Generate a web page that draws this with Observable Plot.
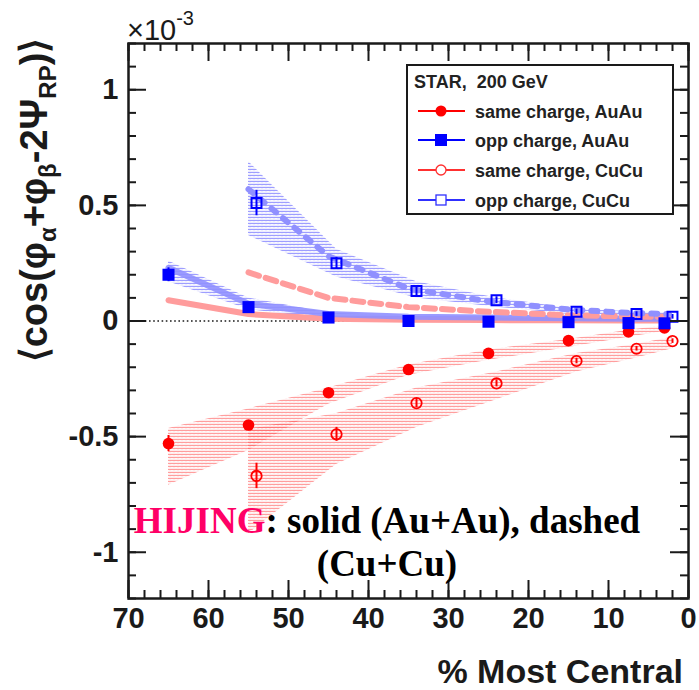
<!DOCTYPE html>
<html><head><meta charset="utf-8">
<script src="https://cdn.jsdelivr.net/npm/d3@7"></script>
<script src="https://cdn.jsdelivr.net/npm/@observablehq/plot@0.6"></script>
<style>
body{margin:0;background:#fff}
#chart{position:relative;width:699px;height:690px}
</style>
</head><body>
<svg width="0" height="0" style="position:absolute">
<defs>
<pattern id="hatchRed" width="4" height="3" patternUnits="userSpaceOnUse">
<path d="M0,2.2 L1,0.8 L2,2.2 L3,0.8 L4,2.2" stroke="#ff5a5a" stroke-width="0.7" stroke-opacity="0.85" fill="none"/>
</pattern>
<pattern id="hatchBlue" width="4" height="3" patternUnits="userSpaceOnUse">
<path d="M0,2.2 L1,0.8 L2,2.2 L3,0.8 L4,2.2" stroke="#5a5aff" stroke-width="0.7" stroke-opacity="0.85" fill="none"/>
</pattern>
</defs></svg>
<div id="chart"></div>
<script>
// ---- data (values in units of 1e-3) ----
const centralityAu = [65, 55, 45, 35, 25, 15, 7.5, 3];
const centralityCu = [54, 44, 34, 24, 14, 6.5, 2];

const sameAuAu = [-0.53, -0.45, -0.31, -0.21, -0.14, -0.085, -0.047, -0.03];
const oppAuAu  = [0.20, 0.06, 0.015, 0.0, -0.003, -0.005, -0.009, -0.01];
const sameCuCu = [-0.67, -0.49, -0.355, -0.27, -0.173, -0.12, -0.087];
const oppCuCu  = [0.51, 0.25, 0.13, 0.09, 0.04, 0.03, 0.018];

const errSameAuAu = [0.035, 0.015, 0.012, 0.01, 0.008, 0.008, 0.008, 0.008];
const errOppAuAu  = [0.03, 0.015, 0.01, 0.008, 0.008, 0.008, 0.008, 0.008];
const errSameCuCu = [0.055, 0.03, 0.02, 0.015, 0.012, 0.01, 0.01];
const errOppCuCu  = [0.055, 0.025, 0.02, 0.015, 0.012, 0.01, 0.01];

// systematic bands
const bandAuX = [65, 55, 45, 35, 25, 15, 7.5, 3];
const bandSameAuLo = [-0.71, -0.56, -0.36, -0.235, -0.17, -0.115, -0.07, -0.045];
const bandSameAuHi = [-0.465, -0.38, -0.29, -0.19, -0.125, -0.08, -0.04, -0.02];
const bandOppAuLo  = [0.17, 0.05, 0.005, 0.0, 0.0, 0.0, -0.005, -0.01];
const bandOppAuHi  = [0.26, 0.10, 0.035, 0.02, 0.018, 0.015, 0.012, 0.01];
const bandCuX = [55, 44, 34, 24, 14, 6.5, 2];
const bandSameCuLo = [-0.92, -0.62, -0.46, -0.34, -0.22, -0.16, -0.12];
const bandSameCuHi = [-0.47, -0.40, -0.29, -0.22, -0.14, -0.10, -0.07];
const bandOppCuLo  = [0.37, 0.19, 0.10, 0.06, 0.025, 0.015, 0.01];
const bandOppCuHi  = [0.69, 0.31, 0.17, 0.10, 0.05, 0.04, 0.035];

// HIJING curves
const hijingAuX = [65, 55, 45, 35, 25, 15, 7.5, 2.5];
const hijingSameAu = [0.09, 0.03, 0.01, 0.005, 0.004, 0.003, 0.002, 0.002];
const hijingOppAu  = [0.23, 0.075, 0.03, 0.018, 0.015, 0.012, 0.01, 0.01];
const hijingCuX = [55, 45, 35, 25, 15, 7.5, 2.5];
const hijingSameCu = [0.21, 0.10, 0.06, 0.04, 0.025, 0.02, 0.018];
const hijingOppCu  = [0.57, 0.28, 0.14, 0.085, 0.05, 0.035, 0.03];

// ticks
const xTicks = [70, 60, 50, 40, 30, 20, 10, 0];
const xTickLabels = ["70", "60", "50", "40", "30", "20", "10", "0"];
const yTicks = [-1, -0.5, 0, 0.5, 1];
const yTickLabels = ["-1", "-0.5", "0", "0.5", "1"];
const xMinor = d3.range(0, 71, 2);
const yMinor = d3.range(-12, 13, 1).map(d => d / 10);

const legendEntries = ["same charge, AuAu", "opp charge, AuAu", "same charge, CuCu", "opp charge, CuCu"];

// ---- build ----
const pts = (xs, ys, es) => xs.map((x, i) => ({x, y: ys[i], e: es ? es[i] : 0}));
const band = (xs, lo, hi) => xs.map((x, i) => ({x, lo: lo[i], hi: hi[i]}));

const W = 699, H = 690, mL = 128, mR = 11, mT = 43, mB = 92;
const fw = W - mL - mR, fh = H - mT - mB;
const ink = "#1a1a1a";
const pink = "#ff9c9c", lblue = "#9090ff";

const chart = Plot.plot({
  width: W, height: H,
  marginLeft: mL, marginRight: mR, marginTop: mT, marginBottom: mB,
  x: {domain: [70, 0], axis: null},
  y: {domain: [-1.2, 1.2], axis: null},
  style: {fontFamily: "'Liberation Sans', Arial, sans-serif", background: "white", color: ink, overflow: "visible"},
  marks: [
    Plot.areaY(band(bandAuX, bandSameAuLo, bandSameAuHi), {x: "x", y1: "lo", y2: "hi", fill: "url(#hatchRed)"}),
    Plot.areaY(band(bandCuX, bandSameCuLo, bandSameCuHi), {x: "x", y1: "lo", y2: "hi", fill: "url(#hatchRed)"}),
    Plot.areaY(band(bandAuX, bandOppAuLo, bandOppAuHi), {x: "x", y1: "lo", y2: "hi", fill: "url(#hatchBlue)"}),
    Plot.areaY(band(bandCuX, bandOppCuLo, bandOppCuHi), {x: "x", y1: "lo", y2: "hi", fill: "url(#hatchBlue)"}),
    Plot.ruleY([0], {stroke: ink, strokeWidth: 1.6, strokeDasharray: "1.6,2.6"}),
    Plot.line(pts(hijingAuX, hijingSameAu), {x: "x", y: "y", stroke: pink, strokeWidth: 6}),
    Plot.line(pts(hijingAuX, hijingOppAu), {x: "x", y: "y", stroke: lblue, strokeWidth: 6, strokeOpacity: 0.9}),
    Plot.line(pts(hijingCuX, hijingSameCu), {x: "x", y: "y", stroke: pink, strokeWidth: 6, strokeDasharray: "11,7"}),
    Plot.line(pts(hijingCuX, hijingOppCu), {x: "x", y: "y", stroke: lblue, strokeWidth: 6, strokeDasharray: "6,9"}),
    Plot.ruleX(pts(centralityAu, sameAuAu, errSameAuAu), {x: "x", y1: d => d.y - d.e, y2: d => d.y + d.e, stroke: "#ff0000", strokeWidth: 2}),
    Plot.ruleX(pts(centralityAu, oppAuAu, errOppAuAu), {x: "x", y1: d => d.y - d.e, y2: d => d.y + d.e, stroke: "#0000ff", strokeWidth: 2}),
    Plot.ruleX(pts(centralityCu, sameCuCu, errSameCuCu), {x: "x", y1: d => d.y - d.e, y2: d => d.y + d.e, stroke: "#ff0000", strokeWidth: 2}),
    Plot.ruleX(pts(centralityCu, oppCuCu, errOppCuCu), {x: "x", y1: d => d.y - d.e, y2: d => d.y + d.e, stroke: "#0000ff", strokeWidth: 2}),
    Plot.dot(pts(centralityAu, sameAuAu), {x: "x", y: "y", symbol: "circle", r: 5.8, fill: "#ff0000"}),
    Plot.dot(pts(centralityAu, oppAuAu), {x: "x", y: "y", symbol: "square", r: 6.8, fill: "#0000ff"}),
    Plot.dot(pts(centralityCu, sameCuCu), {x: "x", y: "y", symbol: "circle", r: 5.2, fill: "none", stroke: "#ff0000", strokeWidth: 1.8}),
    Plot.dot(pts(centralityCu, oppCuCu), {x: "x", y: "y", symbol: "square", r: 5.6, fill: "none", stroke: "#0000ff", strokeWidth: 2}),
    // ticks (inward, all four sides)
    Plot.tickX(xMinor, {x: d => d, insetTop: fh - 8, stroke: ink, strokeWidth: 2}),
    Plot.tickX(xMinor, {x: d => d, insetBottom: fh - 8, stroke: ink, strokeWidth: 2}),
    Plot.tickX(xTicks, {x: d => d, insetTop: fh - 18, stroke: ink, strokeWidth: 2}),
    Plot.tickX(xTicks, {x: d => d, insetBottom: fh - 18, stroke: ink, strokeWidth: 2}),
    Plot.tickY(yMinor, {y: d => d, insetRight: fw - 8, stroke: ink, strokeWidth: 2}),
    Plot.tickY(yMinor, {y: d => d, insetLeft: fw - 8, stroke: ink, strokeWidth: 2}),
    Plot.tickY(yTicks, {y: d => d, insetRight: fw - 18, stroke: ink, strokeWidth: 2}),
    Plot.tickY(yTicks, {y: d => d, insetLeft: fw - 18, stroke: ink, strokeWidth: 2}),
    Plot.frame({stroke: ink, strokeWidth: 2.5}),
    Plot.axisX(xTicks, {anchor: "bottom", tickSize: 0, tickPadding: 9, fontSize: 29, fontWeight: "bold", tickFormat: d => xTickLabels[xTicks.indexOf(d)], label: null}),
    Plot.axisY(yTicks, {anchor: "left", tickSize: 0, tickPadding: 10, fontSize: 29, fontWeight: "bold", tickFormat: d => yTickLabels[yTicks.indexOf(d)], label: null})
  ]
});
document.getElementById("chart").appendChild(chart);

const svg = d3.select(chart);
const sans = "'Liberation Sans', Arial, sans-serif";

// multiplier
const mult = svg.append("text").attr("x", 127).attr("y", 40).attr("text-anchor", "start").attr("font-family", sans).attr("font-size", 29).attr("fill", ink);
mult.append("tspan").text("×10");
mult.append("tspan").attr("font-size", 20).attr("dy", -15).text("-3");

// y title
const yt = svg.append("text").attr("transform", "translate(47,200) rotate(-90)").attr("text-anchor", "middle")
  .attr("font-family", sans).attr("font-size", 38).attr("font-weight", "bold").attr("fill", ink);
const parts = [["⟨cos(φ", 0], ["α", 1], ["+φ", 0], ["β", 1], ["-2Ψ", 0], ["RP", 1], [")⟩", 0]];
let cur = 0;
for (const [t, sub] of parts) {
  const target = sub ? 9 : 0;
  const ts = yt.append("tspan").attr("dy", target - cur).text(t);
  if (sub) ts.attr("font-size", 24);
  cur = target;
}

// x title
svg.append("text").attr("x", 683).attr("y", 683).attr("text-anchor", "end").attr("font-family", sans)
  .attr("font-size", 34).attr("font-weight", "bold").attr("fill", ink).text("% Most Central");

// HIJING note
const serif = "'Liberation Serif', 'Times New Roman', serif";
const h1 = svg.append("text").attr("x", 387).attr("y", 533).attr("text-anchor", "middle").attr("font-family", serif)
  .attr("font-size", 37).attr("font-weight", "bold").attr("fill", "#000");
h1.append("tspan").attr("fill", "#ff0066").text("HIJING");
h1.append("tspan").text(": solid (Au+Au), dashed");
svg.append("text").attr("x", 387).attr("y", 576).attr("text-anchor", "middle").attr("font-family", serif)
  .attr("font-size", 37).attr("font-weight", "bold").attr("fill", "#000").text("(Cu+Cu)");

// legend
const lg = svg.append("g").attr("font-family", sans).attr("font-weight", "bold").attr("font-size", 18).attr("fill", "#222").attr("text-anchor", "start");
lg.append("rect").attr("x", 407).attr("y", 65).attr("width", 266).attr("height", 149).attr("fill", "white").attr("stroke", ink).attr("stroke-width", 2);
lg.append("text").attr("x", 414).attr("y", 88).style("white-space", "pre").text("STAR,  200 GeV");
const rowsY = [111, 140, 170, 200];
const lcol = ["#ff0000", "#0000ff", "#ff3030", "#3030ff"];
rowsY.forEach((yy, i) => {
  lg.append("line").attr("x1", 418).attr("x2", 465).attr("y1", yy).attr("y2", yy).attr("stroke", lcol[i]).attr("stroke-width", 2);
  if (i === 0) lg.append("circle").attr("cx", 441).attr("cy", yy).attr("r", 5.5).attr("fill", "#ff0000");
  if (i === 1) lg.append("rect").attr("x", 435).attr("y", yy - 6).attr("width", 12).attr("height", 12).attr("fill", "#0000ff");
  if (i === 2) lg.append("circle").attr("cx", 441).attr("cy", yy).attr("r", 5).attr("fill", "white").attr("stroke", "#ff3030").attr("stroke-width", 1.3);
  if (i === 3) lg.append("rect").attr("x", 436).attr("y", yy - 5).attr("width", 10).attr("height", 10).attr("fill", "white").attr("stroke", "#3030ff").attr("stroke-width", 1.3);
  lg.append("text").attr("x", 475).attr("y", yy + 6.5).text(legendEntries[i]);
});
</script>
</body></html>
